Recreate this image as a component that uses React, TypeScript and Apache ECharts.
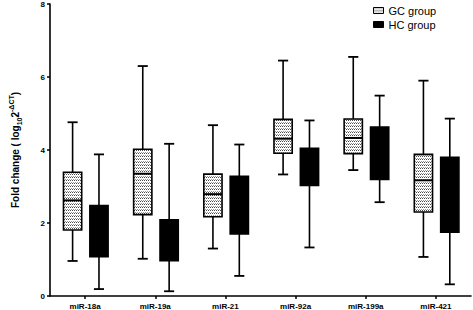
import React, { useEffect, useRef } from 'react';
import * as echarts from 'echarts';

const categories = ['miR-18a', 'miR-19a', 'miR-21', 'miR-92a', 'miR-199a', 'miR-421'];
// each row: [min, Q1, median, Q3, max]
const gcBoxes = [
  [0.96, 1.81, 2.62, 3.39, 4.76],
  [1.02, 2.23, 3.35, 4.02, 6.3],
  [1.3, 2.17, 2.79, 3.34, 4.68],
  [3.33, 3.91, 4.31, 4.84, 6.45],
  [3.45, 3.9, 4.33, 4.85, 6.55],
  [1.07, 2.3, 3.17, 3.88, 5.9],
];
const hcBoxes = [
  [0.19, 1.08, 1.8, 2.48, 3.88],
  [0.13, 0.97, 1.5, 2.09, 4.17],
  [0.55, 1.7, 2.5, 3.28, 4.15],
  [1.33, 3.03, 3.5, 4.05, 4.81],
  [2.57, 3.19, 3.9, 4.63, 5.49],
  [0.32, 1.75, 2.8, 3.8, 4.86],
];
const yMin = 0;
const yMax = 8;
const yInterval = 2;
const seriesNames = ['GC group', 'HC group'];

const FONT = '"Liberation Sans", Arial, sans-serif';

function makePattern() {
  const cvs = document.createElement('canvas');
  cvs.width = 4;
  cvs.height = 3;
  const ctx = cvs.getContext('2d')!;
  ctx.fillStyle = '#ffffff';
  ctx.fillRect(0, 0, 4, 3);
  ctx.fillStyle = '#4a4a4a';
  ctx.fillRect(0, 0, 1, 1);
  ctx.fillRect(2, 0, 1, 1);
  ctx.fillStyle = '#999999';
  ctx.fillRect(1, 2, 1, 1);
  ctx.fillRect(3, 2, 1, 1);
  return { image: cvs, repeat: 'repeat' } as any;
}

function makeRender(offsetFrac: number, fill: any) {
  return (params: any, api: any) => {
    const idx = api.value(0);
    const band = api.size([1, 0])[0];
    const cx = api.coord([idx, 0])[0] + offsetFrac * band;
    const pMin = api.coord([idx, api.value(1)])[1];
    const pQ1 = api.coord([idx, api.value(2)])[1];
    const pMed = api.coord([idx, api.value(3)])[1];
    const pQ3 = api.coord([idx, api.value(4)])[1];
    const pMax = api.coord([idx, api.value(5)])[1];
    const half = band * 0.13;
    const cap = band * 0.072;
    const ls = { stroke: '#000', lineWidth: 1.6 };
    return {
      type: 'group',
      children: [
        { type: 'line', shape: { x1: cx, y1: pMax, x2: cx, y2: pQ3 }, style: ls },
        { type: 'line', shape: { x1: cx, y1: pQ1, x2: cx, y2: pMin }, style: ls },
        { type: 'line', shape: { x1: cx - cap, y1: pMax, x2: cx + cap, y2: pMax }, style: { stroke: '#000', lineWidth: 1.8 } },
        { type: 'line', shape: { x1: cx - cap, y1: pMin, x2: cx + cap, y2: pMin }, style: { stroke: '#000', lineWidth: 1.8 } },
        {
          type: 'rect',
          shape: { x: cx - half, y: pQ3, width: half * 2, height: pQ1 - pQ3 },
          style: { fill, stroke: '#000', lineWidth: 1.6 },
        },
        { type: 'line', shape: { x1: cx - half, y1: pMed, x2: cx + half, y2: pMed }, style: { stroke: '#000', lineWidth: 2 } },
      ],
    };
  };
}

export default function App() {
  const ref = useRef<HTMLDivElement>(null);
  useEffect(() => {
    if (!ref.current) return;
    const chart = echarts.init(ref.current, undefined, { renderer: 'svg' });
    const pattern = makePattern();
    const gcData = gcBoxes.map((b, i) => [i, ...b]);
    const hcData = hcBoxes.map((b, i) => [i, ...b]);
    chart.setOption({
      animation: false,
      backgroundColor: '#fff',
      grid: { left: 32, right: 2, top: 4, bottom: 13.5, containLabel: false },
      legend: {
        orient: 'vertical',
        left: 373,
        top: 5,
        padding: 0,
        itemWidth: 10,
        itemHeight: 6,
        itemGap: 3,
        textStyle: { fontSize: 11, fontFamily: FONT, color: '#000' },
        data: [
          { name: seriesNames[0], icon: 'rect', itemStyle: { color: pattern, borderColor: '#000', borderWidth: 1 } },
          { name: seriesNames[1], icon: 'rect', itemStyle: { color: '#000', borderColor: '#000', borderWidth: 1 } },
        ],
      },
      xAxis: {
        type: 'category',
        data: categories,
        boundaryGap: true,
        axisLine: { show: true, lineStyle: { color: '#000', width: 1.6 } },
        axisTick: { show: true, alignWithLabel: true, length: 3, lineStyle: { color: '#000', width: 1.5 } },
        axisLabel: { fontSize: 8, fontWeight: 'bold', fontFamily: FONT, color: '#000', margin: 6 },
        splitLine: { show: false },
      },
      yAxis: {
        type: 'value',
        min: yMin,
        max: yMax,
        interval: yInterval,
        axisLine: { show: true, lineStyle: { color: '#000', width: 1.6 } },
        axisTick: { show: true, length: 3, lineStyle: { color: '#000', width: 1.5 } },
        axisLabel: { fontSize: 8, fontWeight: 'bold', fontFamily: FONT, color: '#000', margin: 5 },
        splitLine: { show: false },
        name: '{a|Fold change ( log}{sub|10}{a|2}{sup|-ΔCT}{a|)}',
        nameLocation: 'middle',
        nameRotate: 90,
        nameGap: 27,
        nameTextStyle: {
          rich: {
            a: { fontSize: 10, fontWeight: 'bold', fontFamily: FONT, color: '#000', lineHeight: 15 },
            sub: { fontSize: 7, fontWeight: 'bold', fontFamily: FONT, color: '#000', lineHeight: 9, verticalAlign: 'bottom' },
            sup: { fontSize: 7, fontWeight: 'bold', fontFamily: FONT, color: '#000', lineHeight: 9, verticalAlign: 'top' },
          },
        },
      },
      series: [
        {
          name: seriesNames[0],
          type: 'custom',
          renderItem: makeRender(-0.178, pattern),
          encode: { x: 0, y: [1, 2, 3, 4, 5] },
          itemStyle: { color: pattern, borderColor: '#000' },
          data: gcData,
          z: 3,
        },
        {
          name: seriesNames[1],
          type: 'custom',
          renderItem: makeRender(0.198, '#000'),
          encode: { x: 0, y: [1, 2, 3, 4, 5] },
          itemStyle: { color: '#000', borderColor: '#000' },
          data: hcData,
          z: 3,
        },
      ],
    });
    return () => chart.dispose();
  }, []);
  return (
    <div
      ref={ref}
      style={{ position: 'absolute', left: 0, top: 0, width: 473, height: 310, background: '#fff' }}
    />
  );
}
